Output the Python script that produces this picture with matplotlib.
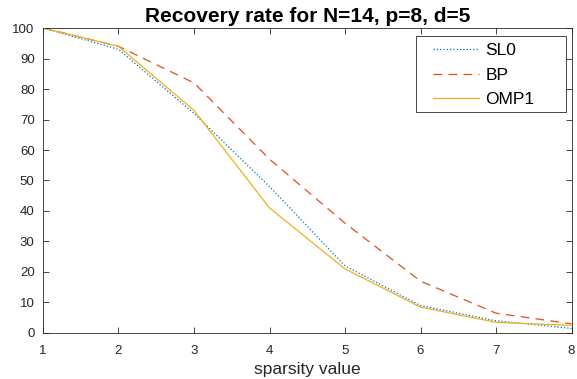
import numpy as np
import matplotlib.pyplot as plt
from matplotlib.patches import Rectangle

plt.rcParams['font.family'] = ['Liberation Sans', 'DejaVu Sans']

sparsity = [1, 2, 3, 4, 5, 6, 7, 8]
sl0 = [100, 93, 72, 48, 22, 9, 4, 1.5]
bp = [100, 94, 82, 57, 36, 17, 6.5, 3]
omp1 = [100, 94, 73, 41, 21, 8.5, 3.5, 2.5]

fig = plt.figure(figsize=(5.77, 3.79), dpi=100)
ax = fig.add_axes([0.0745, 0.1214, 0.916, 0.8047])

ax.plot(sparsity, sl0, linestyle=':', color='#0072BD', linewidth=0.9, label='SL0')
ax.plot(sparsity, bp, linestyle=(0, (7, 5)), color='#D95319', linewidth=0.9, label='BP')
ax.plot(sparsity, omp1, linestyle='-', color='#EDB120', linewidth=0.9, label='OMP1')

ax.set_xlim(1, 8)
ax.set_ylim(0, 100)
ax.set_xticks(sparsity)
ax.set_yticks(np.arange(0, 101, 10))
ax.tick_params(direction='in', top=True, right=True, length=4, width=0.6,
               labelsize=9.5, colors='#262626')
ax.tick_params(axis='x', pad=9)
ax.tick_params(axis='y', pad=6)
for s in ax.spines.values():
    s.set_linewidth(0.6)
    s.set_color('#262626')

ax.set_xlabel('sparsity value', fontsize=12.5, labelpad=3, color='#262626')
ax.set_title('Recovery rate for N=14, p=8, d=5', fontsize=15, fontweight='bold', pad=4)

# legend box drawn as a frame around a frameless legend
ax.add_patch(Rectangle((0.705, 0.725), 0.284, 0.249, transform=ax.transAxes,
                       facecolor='white', edgecolor='#262626', linewidth=0.6, zorder=4))
leg = ax.legend(loc='upper left', bbox_to_anchor=(0.737, 0.95), fontsize=12.5,
                frameon=False, handlelength=2.7, borderpad=0, borderaxespad=0,
                labelspacing=0.52, handletextpad=0.35)
leg.set_zorder(5)

fig.savefig('out.png', dpi=100)
